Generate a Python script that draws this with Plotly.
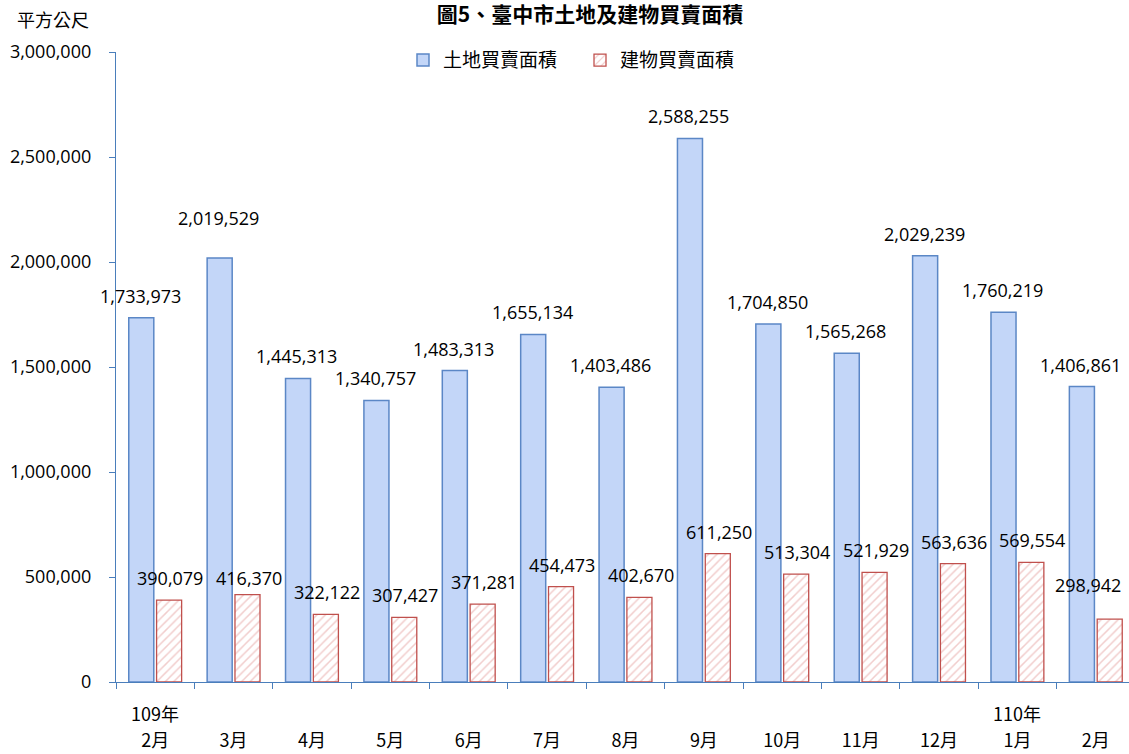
import plotly.graph_objects as go

months = ["2月", "3月", "4月", "5月", "6月", "7月", "8月", "9月", "10月", "11月", "12月", "1月", "2月"]
cats = [f"c{i}" for i in range(len(months))]
land = [1733973, 2019529, 1445313, 1340757, 1483313, 1655134, 1403486, 2588255, 1704850, 1565268, 2029239, 1760219, 1406861]
building = [390079, 416370, 322122, 307427, 371281, 454473, 402670, 611250, 513304, 521929, 563636, 569554, 298942]
years = [("109年", 0), ("110年", 11)]
yticks = [0, 500000, 1000000, 1500000, 2000000, 2500000, 3000000]

# label placement tweaks (pixels) for a few data labels, as in the original chart
land_label_lift = {1: 40}
bld_label_lift = {1: 17, 12: 34}
bld_label_shift = {12: -23}

FONT = "Open Sans, Noto Sans CJK TC, sans-serif"
CJK = "Noto Sans CJK TC, sans-serif"
AXIS = "#4a7ebb"

fig = go.Figure()
fig.add_trace(go.Bar(
    x=cats, y=land, name="土地買賣面積",
    marker=dict(color="#c3d6f8", line=dict(color="#5b87c6", width=1.5)),
))
fig.add_trace(go.Bar(
    x=cats, y=building, name="建物買賣面積",
    marker=dict(color="white", line=dict(color="#c0504d", width=1.3),
                pattern=dict(shape="/", fgcolor="#e49c9a", bgcolor="white", size=6, solidity=0.25)),
))

for i, c in enumerate(cats):
    fig.add_annotation(x=c, y=land[i], xref="x", yref="y", xshift=-15,
                       yshift=land_label_lift.get(i, 22), text=f"{land[i]:,}",
                       showarrow=False, yanchor="middle", xanchor="center",
                       font=dict(family=FONT, size=18, color="#000"))
    fig.add_annotation(x=c, y=building[i], xref="x", yref="y",
                       xshift=15 + bld_label_shift.get(i, 0),
                       yshift=bld_label_lift.get(i, 22), text=f"{building[i]:,}",
                       showarrow=False, yanchor="middle", xanchor="center",
                       font=dict(family=FONT, size=18, color="#000"))

for label, idx in years:
    fig.add_annotation(x=cats[idx], y=0, xref="x", yref="paper", yshift=-31,
                       text=label, showarrow=False, yanchor="middle",
                       font=dict(family=CJK, size=18, color="#000"))

fig.add_annotation(x=0, y=1, xref="paper", yref="paper", xshift=-63, yshift=33,
                   text="平方公尺", showarrow=False, xanchor="center", yanchor="middle",
                   font=dict(family=CJK, size=18, color="#000"))

W = 1135
fig.update_layout(
    width=W, height=754,
    margin=dict(l=116, r=0, t=52, b=72, autoexpand=False),
    paper_bgcolor="white", plot_bgcolor="white",
    title=dict(text="<b>圖5、臺中市土地及建物買賣面積</b>", x=590 / W, xanchor="center",
               y=1 - 15 / 754, yanchor="middle",
               font=dict(family=CJK, size=21, color="#000")),
    barmode="group", bargap=0.29, bargroupgap=0.1,
    legend=dict(orientation="h", x=(418 - 116 - 15) / (W - 116), xanchor="left", y=0.987, yanchor="middle",
                font=dict(family=CJK, size=19, color="#000"), entrywidth=132, itemwidth=30,
                bgcolor="rgba(0,0,0,0)"),
    xaxis=dict(type="category", tickmode="array", tickvals=cats, ticktext=months,
               range=[-0.5, len(cats) - 0.5], autorange=False,
               showline=True, linecolor=AXIS, linewidth=1.3,
               ticks="outside", tickson="boundaries", ticklen=6, tickcolor=AXIS,
               ticklabelstandoff=42, automargin=False,
               tickfont=dict(family=CJK, size=18, color="#000"), showgrid=False),
    yaxis=dict(range=[0, 3000000], autorange=False, tickvals=yticks, tickformat=",",
               showline=True, linecolor=AXIS, linewidth=1.3,
               ticks="outside", ticklen=6, tickcolor=AXIS, ticklabelstandoff=14,
               showgrid=False, zeroline=False, automargin=False,
               tickfont=dict(family=FONT, size=18, color="#000")),
)

fig.write_html("out.html", config={"displayModeBar": False},
               post_script="document.body.style.margin='0';document.body.style.overflow='hidden';")
